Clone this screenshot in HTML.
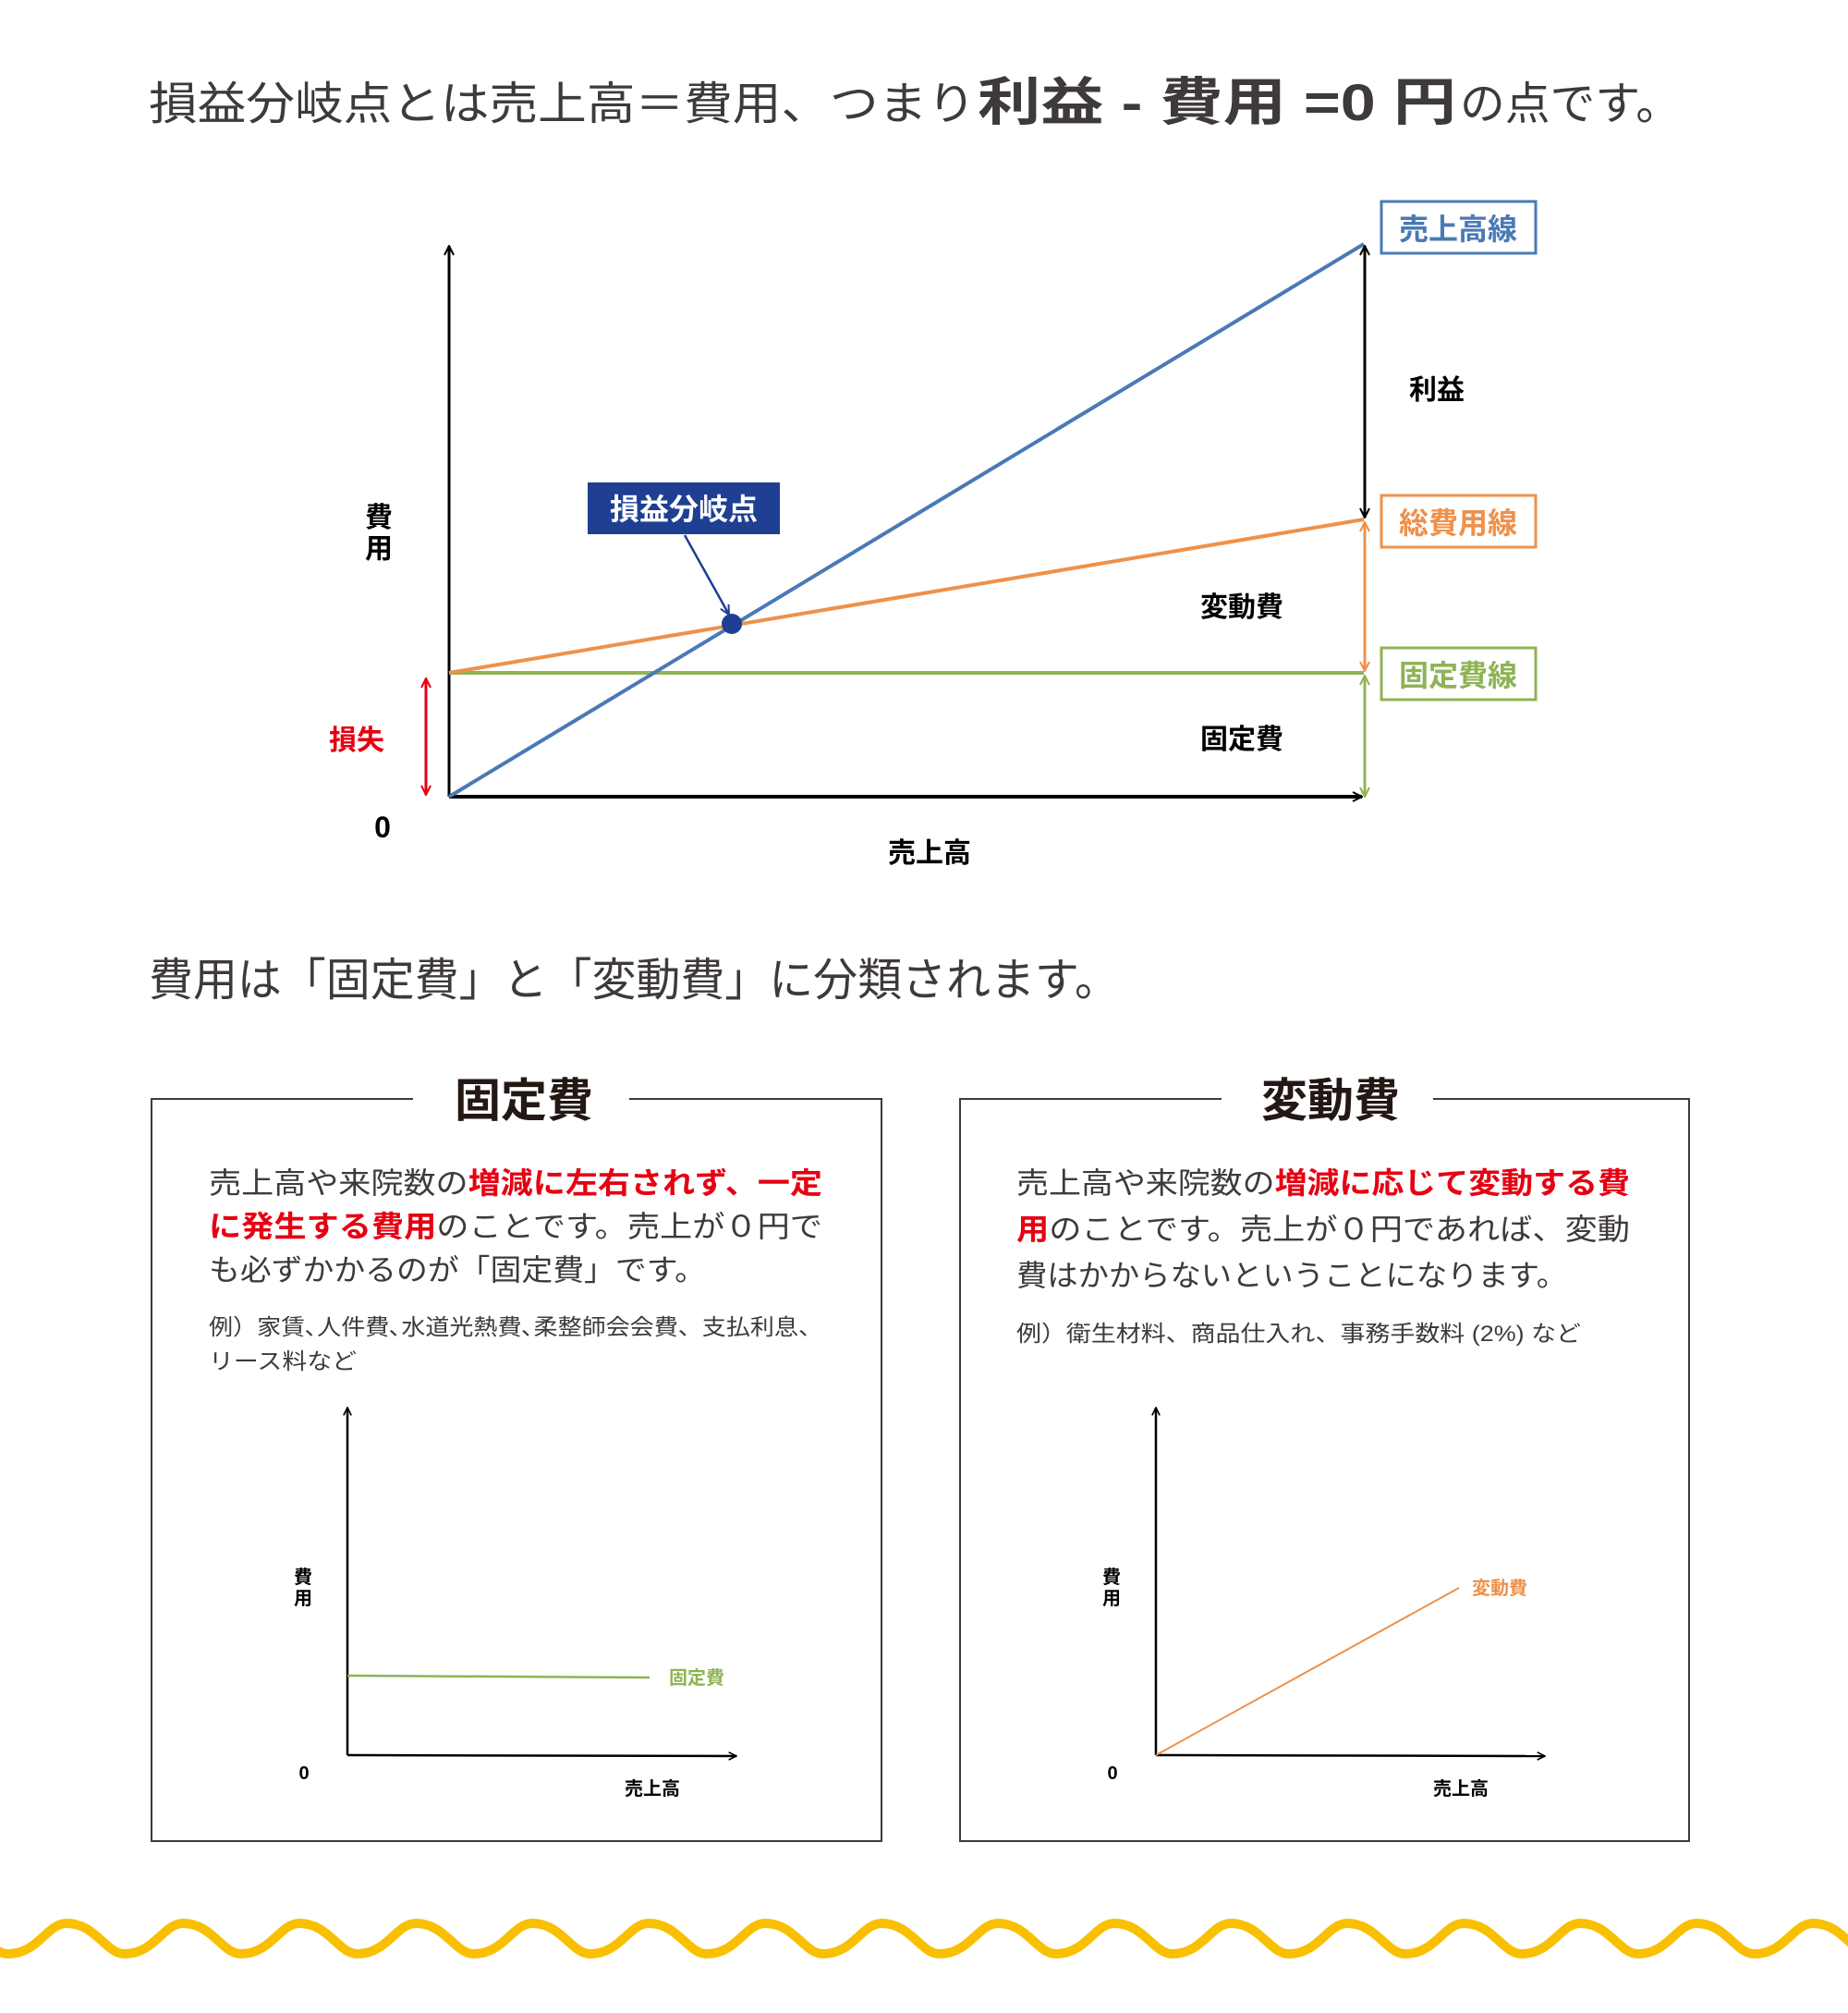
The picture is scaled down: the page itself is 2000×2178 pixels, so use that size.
<!DOCTYPE html>
<html><head><meta charset="utf-8"><style>
html,body{margin:0;padding:0;background:#fff;}
svg{display:block;}
text{font-family:"Liberation Sans","Noto Sans CJK JP",sans-serif;}
</style></head><body>
<svg width="2000" height="2178" viewBox="0 0 2000 2178" xmlns="http://www.w3.org/2000/svg">
<defs>
<marker id="aK" viewBox="0 0 12 12" refX="11" refY="6" markerWidth="12" markerHeight="12" markerUnits="userSpaceOnUse" orient="auto-start-reverse"><path d="M1,1 L11,6 L1,11" fill="none" stroke="#000" stroke-width="2"/></marker>
<marker id="aO" viewBox="0 0 12 12" refX="11" refY="6" markerWidth="12" markerHeight="12" markerUnits="userSpaceOnUse" orient="auto-start-reverse"><path d="M1,1 L11,6 L1,11" fill="none" stroke="#ee914a" stroke-width="2"/></marker>
<marker id="aG" viewBox="0 0 12 12" refX="11" refY="6" markerWidth="12" markerHeight="12" markerUnits="userSpaceOnUse" orient="auto-start-reverse"><path d="M1,1 L11,6 L1,11" fill="none" stroke="#8fb356" stroke-width="2"/></marker>
<marker id="aR" viewBox="0 0 12 12" refX="11" refY="6" markerWidth="12" markerHeight="12" markerUnits="userSpaceOnUse" orient="auto-start-reverse"><path d="M1,1 L11,6 L1,11" fill="none" stroke="#e60012" stroke-width="2"/></marker>
<marker id="aB" viewBox="0 0 12 12" refX="11" refY="6" markerWidth="12" markerHeight="12" markerUnits="userSpaceOnUse" orient="auto"><path d="M1,1 L11,6 L1,11" fill="none" stroke="#1f3f93" stroke-width="2"/></marker>
<marker id="aS" viewBox="0 0 12 12" refX="11" refY="6" markerWidth="10" markerHeight="10" markerUnits="userSpaceOnUse" orient="auto"><path d="M1,1 L11,6 L1,11" fill="none" stroke="#000" stroke-width="2"/></marker>
</defs>

<!-- Title -->
<g fill="#3e3a39">
<text x="161" y="129" font-size="49" textLength="895" lengthAdjust="spacingAndGlyphs">損益分岐点とは売上高＝費用、つまり</text>
<text x="1058" y="130" font-size="56" font-weight="bold" textLength="518" lengthAdjust="spacingAndGlyphs">利益 - 費用 =0 円</text>
<text x="1580" y="129" font-size="49" textLength="239" lengthAdjust="spacingAndGlyphs">の点です。</text>
</g>

<!-- Main chart -->
<line x1="486" y1="862" x2="486" y2="266" stroke="#000" stroke-width="3" marker-end="url(#aK)"/>
<line x1="486" y1="862" x2="1474" y2="862" stroke="#000" stroke-width="4" marker-end="url(#aK)"/>
<line x1="486" y1="728" x2="1476" y2="728" stroke="#8fb356" stroke-width="4"/>
<line x1="486" y1="728" x2="1476" y2="562" stroke="#ee914a" stroke-width="4"/>
<line x1="486" y1="862" x2="1476" y2="264" stroke="#4a7ab5" stroke-width="4"/>
<circle cx="792" cy="675" r="11" fill="#1f3f93"/>
<rect x="636" y="522" width="208" height="56" fill="#1f3f93"/>
<text x="740" y="562" font-size="32" font-weight="bold" fill="#fff" text-anchor="middle">損益分岐点</text>
<line x1="741" y1="579" x2="789" y2="665" stroke="#1f3f93" stroke-width="2.5" marker-end="url(#aB)"/>

<line x1="1477" y1="266" x2="1477" y2="560" stroke="#000" stroke-width="3" marker-start="url(#aK)" marker-end="url(#aK)"/>
<line x1="1477" y1="565" x2="1477" y2="726" stroke="#ee914a" stroke-width="3" marker-start="url(#aO)" marker-end="url(#aO)"/>
<line x1="1477" y1="731" x2="1477" y2="862" stroke="#8fb356" stroke-width="3" marker-start="url(#aG)" marker-end="url(#aG)"/>
<line x1="461" y1="734" x2="461" y2="860" stroke="#e60012" stroke-width="3" marker-start="url(#aR)" marker-end="url(#aR)"/>

<rect x="1495" y="218" width="167" height="56" fill="#fff" stroke="#4a7ab5" stroke-width="3"/>
<text x="1578" y="259" font-size="32" font-weight="bold" fill="#4a7ab5" text-anchor="middle">売上高線</text>
<rect x="1495" y="536" width="167" height="56" fill="#fff" stroke="#ee914a" stroke-width="3"/>
<text x="1578" y="577" font-size="32" font-weight="bold" fill="#ee914a" text-anchor="middle">総費用線</text>
<rect x="1495" y="701" width="167" height="56" fill="#fff" stroke="#8fb356" stroke-width="3"/>
<text x="1578" y="742" font-size="32" font-weight="bold" fill="#8fb356" text-anchor="middle">固定費線</text>

<g font-weight="bold" fill="#000" font-size="30">
<text x="1555" y="432" text-anchor="middle">利益</text>
<text x="1344" y="667" text-anchor="middle">変動費</text>
<text x="1344" y="810" text-anchor="middle">固定費</text>
<text x="410" y="570" text-anchor="middle">費</text>
<text x="410" y="604" text-anchor="middle">用</text>
<text x="1006" y="933" text-anchor="middle">売上高</text>
<text x="414" y="906" text-anchor="middle" font-size="32">0</text>
<text x="386" y="811" text-anchor="middle" fill="#e60012">損失</text>
</g>

<!-- Section 2 heading -->
<text x="161" y="1077" font-size="49" fill="#3e3a39" textLength="1050" lengthAdjust="spacingAndGlyphs">費用は「固定費」と「変動費」に分類されます。</text>

<!-- Boxes -->
<g fill="none" stroke="#3e3a39" stroke-width="2">
<path d="M447,1189 H164 V1992 H954 V1189 H681"/>
<path d="M1322,1189 H1039 V1992 H1828 V1189 H1551"/>
</g>
<text x="567" y="1208" font-size="50" font-weight="bold" fill="#231815" text-anchor="middle">固定費</text>
<text x="1440" y="1208" font-size="50" font-weight="bold" fill="#231815" text-anchor="middle">変動費</text>

<g font-size="32" fill="#3e3a39">
<text x="226" y="1291" textLength="664" lengthAdjust="spacingAndGlyphs">売上高や来院数の<tspan fill="#e60012" font-weight="bold">増減に左右されず、一定</tspan></text>
<text x="226" y="1338" textLength="664" lengthAdjust="spacingAndGlyphs"><tspan fill="#e60012" font-weight="bold">に発生する費用</tspan>のことです。売上が０円で</text>
<text x="226" y="1385" textLength="538" lengthAdjust="spacingAndGlyphs">も必ずかかるのが「固定費」です。</text>
<text x="1100" y="1291" textLength="664" lengthAdjust="spacingAndGlyphs">売上高や来院数の<tspan fill="#e60012" font-weight="bold">増減に応じて変動する費</tspan></text>
<text x="1100" y="1341" textLength="664" lengthAdjust="spacingAndGlyphs"><tspan fill="#e60012" font-weight="bold">用</tspan>のことです。売上が０円であれば、変動</text>
<text x="1100" y="1391" textLength="596" lengthAdjust="spacingAndGlyphs">費はかからないということになります。</text>
</g>
<g font-size="24" fill="#3e3a39">
<text x="226" y="1444" textLength="664" lengthAdjust="spacingAndGlyphs">例）家賃､人件費､水道光熱費､柔整師会会費、支払利息、</text>
<text x="226" y="1481" textLength="160" lengthAdjust="spacingAndGlyphs">リース料など</text>
<text x="1100" y="1451" textLength="611" lengthAdjust="spacingAndGlyphs">例）衛生材料、商品仕入れ、事務手数料 (2%) など</text>
</g>

<!-- mini charts -->
<line x1="376" y1="1899" x2="376" y2="1523" stroke="#000" stroke-width="2.5" marker-end="url(#aS)"/>
<line x1="376" y1="1899" x2="797" y2="1900" stroke="#000" stroke-width="2.5" marker-end="url(#aS)"/>
<line x1="376" y1="1813" x2="703" y2="1815" stroke="#8fb356" stroke-width="2.5"/>
<text x="724" y="1822" font-size="20" font-weight="bold" fill="#8fb356">固定費</text>
<line x1="1251" y1="1899" x2="1251" y2="1523" stroke="#000" stroke-width="2.5" marker-end="url(#aS)"/>
<line x1="1251" y1="1899" x2="1672" y2="1900" stroke="#000" stroke-width="2.5" marker-end="url(#aS)"/>
<line x1="1251" y1="1899" x2="1579" y2="1718" stroke="#ee914a" stroke-width="2"/>
<text x="1593" y="1725" font-size="20" font-weight="bold" fill="#ee914a">変動費</text>
<g font-size="20" font-weight="bold" fill="#000" text-anchor="middle">
<text x="328" y="1713">費</text><text x="328" y="1736">用</text>
<text x="329" y="1925">0</text>
<text x="706" y="1942">売上高</text>
<text x="1203" y="1713">費</text><text x="1203" y="1736">用</text>
<text x="1204" y="1925">0</text>
<text x="1581" y="1942">売上高</text>
</g>

<!-- wave -->
<path d="M-117,2114 C-85,2114 -75,2081 -54,2081 C-22,2081 -12,2114 9,2114 C41,2114 51,2081 72,2081 C104,2081 114,2114 135,2114 C167,2114 177,2081 198,2081 C230,2081 240,2114 261,2114 C293,2114 303,2081 324,2081 C356,2081 366,2114 387,2114 C419,2114 429,2081 450,2081 C482,2081 492,2114 513,2114 C545,2114 555,2081 576,2081 C608,2081 618,2114 639,2114 C671,2114 681,2081 702,2081 C734,2081 744,2114 765,2114 C797,2114 807,2081 828,2081 C860,2081 870,2114 891,2114 C923,2114 933,2081 954,2081 C986,2081 996,2114 1017,2114 C1049,2114 1059,2081 1080,2081 C1112,2081 1122,2114 1143,2114 C1175,2114 1185,2081 1206,2081 C1238,2081 1248,2114 1269,2114 C1301,2114 1311,2081 1332,2081 C1364,2081 1374,2114 1395,2114 C1427,2114 1437,2081 1458,2081 C1490,2081 1500,2114 1521,2114 C1553,2114 1563,2081 1584,2081 C1616,2081 1626,2114 1647,2114 C1679,2114 1689,2081 1710,2081 C1742,2081 1752,2114 1773,2114 C1805,2114 1815,2081 1836,2081 C1868,2081 1878,2114 1899,2114 C1931,2114 1941,2081 1962,2081 C1994,2081 2004,2114 2025,2114 C2057,2114 2067,2081 2088,2081" fill="none" stroke="#f8c000" stroke-width="10"/>
</svg>
</body></html>
